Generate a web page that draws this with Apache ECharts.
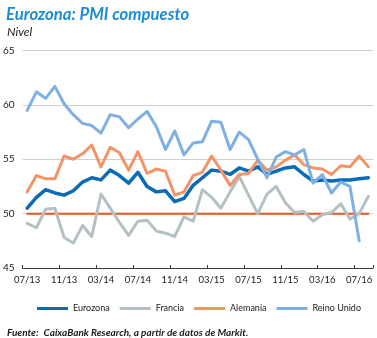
<!DOCTYPE html>
<html>
<head>
<meta charset="utf-8">
<script src="https://cdn.jsdelivr.net/npm/echarts@6/dist/echarts.min.js"></script>
<style>
  html, body { margin: 0; padding: 0; background: #fff; }
  #chart { width: 377px; height: 338px; }
</style>
</head>
<body>
<div id="chart"></div>
<script>
// Monthly composite PMI, 07/13 – 08/16
const months = [
  '07/13','08/13','09/13','10/13','11/13','12/13',
  '01/14','02/14','03/14','04/14','05/14','06/14','07/14','08/14','09/14','10/14','11/14','12/14',
  '01/15','02/15','03/15','04/15','05/15','06/15','07/15','08/15','09/15','10/15','11/15','12/15',
  '01/16','02/16','03/16','04/16','05/16','06/16','07/16','08/16'
];

const eurozona = [
  50.5, 51.5, 52.2, 51.9, 51.7, 52.1,
  52.9, 53.3, 53.1, 54.0, 53.5, 52.8, 53.8, 52.5, 52.0, 52.1, 51.1, 51.4,
  52.6, 53.3, 54.0, 53.9, 53.6, 54.2, 53.9, 54.3, 53.6, 53.9, 54.2, 54.3,
  53.6, 53.0, 53.1, 53.0, 53.1, 53.1, 53.2, 53.3
];

const francia = [
  49.1, 48.7, 50.4, 50.5, 47.8, 47.3,
  48.9, 47.9, 51.8, 50.5, 49.2, 48.0, 49.3, 49.4, 48.4, 48.2, 47.9, 49.7,
  49.3, 52.2, 51.5, 50.5, 52.0, 53.4, 51.7, 50.0, 51.8, 52.5, 51.0, 50.1,
  50.2, 49.3, 49.9, 50.1, 50.9, 49.5, 50.0, 51.6
];

const alemania = [
  52.0, 53.5, 53.2, 53.2, 55.3, 55.0,
  55.5, 56.3, 54.3, 56.1, 55.6, 54.0, 55.7, 53.7, 54.1, 53.9, 51.7, 52.0,
  53.5, 53.8, 55.3, 54.0, 52.6, 53.6, 53.7, 54.9, 54.0, 54.3, 54.9, 55.4,
  54.5, 54.2, 54.1, 53.6, 54.4, 54.3, 55.3, 54.3
];

const reinoUnido = [
  59.5, 61.2, 60.6, 61.7, 60.1, 59.1,
  58.3, 58.1, 57.4, 59.1, 58.9, 57.9, 58.7, 59.4, 58.0, 55.9, 57.6, 55.4,
  56.5, 56.6, 58.5, 58.4, 55.9, 57.5, 56.8, 55.0, 53.3, 55.2, 55.7, 55.4,
  55.9, 52.8, 53.6, 51.9, 52.9, 52.5, 47.5, null
];

// Expansion / contraction threshold
const umbral = months.map(() => 50);

const yTicks = { min: 45, max: 65, step: 5 };

const FONT = 'Lato, "Open Sans", sans-serif';

const chart = echarts.init(document.getElementById('chart'), null, { renderer: 'canvas' });

function lineSeries(name, data, color, width, z) {
  return {
    name: name,
    type: 'line',
    data: data,
    symbol: 'none',
    smooth: false,
    connectNulls: false,
    z: z,
    lineStyle: { color: color, width: width, join: 'round', cap: 'round' },
    itemStyle: { color: color },
    emphasis: { disabled: true }
  };
}

chart.setOption({
  animation: false,
  backgroundColor: '#ffffff',
  title: [
    {
      text: 'Eurozona: PMI compuesto',
      left: 1, top: 1,
      textStyle: { fontFamily: FONT, fontSize: 16.7, fontWeight: 'bold', fontStyle: 'italic', color: '#1a8dd6' }
    },
    {
      text: 'Nivel',
      left: 2, top: 21,
      textStyle: { fontFamily: FONT, fontSize: 12, fontWeight: 'normal', fontStyle: 'italic', color: '#1a1a1a' }
    },
    {
      text: '{b|Fuente:} {i|CaixaBank Research, a partir de datos de Markit.}',
      left: 2, top: 319,
      textStyle: {
        rich: {
          b: { fontFamily: FONT, fontSize: 10, fontWeight: 'bold', fontStyle: 'italic', color: '#1a1a1a' },
          i: { fontFamily: FONT, fontSize: 10, fontStyle: 'italic', color: '#1a1a1a' }
        }
      }
    }
  ],
  legend: {
    left: 32, top: 299,
    itemGap: 10,
    itemWidth: 31, itemHeight: 3,
    icon: 'rect',
    selectedMode: false,
    textStyle: { fontFamily: FONT, fontSize: 9, color: '#1a1a1a' },
    data: ['Eurozona', 'Francia', 'Alemania', 'Reino Unido']
  },
  grid: { left: 22, right: 4, top: 50.5, bottom: 70, containLabel: false },
  xAxis: {
    type: 'category',
    data: months,
    boundaryGap: true,
    axisLine: { show: true, lineStyle: { color: '#3c3c3c', width: 1 } },
    axisTick: { show: true, inside: true, length: 3, interval: 3, alignWithLabel: false, lineStyle: { color: '#3c3c3c' } },
    axisLabel: { interval: 3, margin: 7, fontFamily: FONT, fontSize: 9.5, color: '#1a1a1a' },
    splitLine: { show: false }
  },
  yAxis: {
    type: 'value',
    min: yTicks.min, max: yTicks.max, interval: yTicks.step,
    axisLine: { show: false },
    axisTick: { show: false },
    axisLabel: { margin: 8, fontFamily: FONT, fontSize: 10, color: '#1a1a1a' },
    splitLine: { show: true, lineStyle: { color: '#cfcfcf', width: 1 } }
  },
  series: [
    lineSeries('Umbral', umbral, '#e8531f', 2, 2),
    lineSeries('Eurozona', eurozona, '#0b6bb5', 3.5, 3),
    lineSeries('Francia', francia, '#b5c0c4', 3, 4),
    lineSeries('Alemania', alemania, '#f39468', 3, 5),
    lineSeries('Reino Unido', reinoUnido, '#80b0e2', 3, 6)
  ]
});
</script>
</body>
</html>
